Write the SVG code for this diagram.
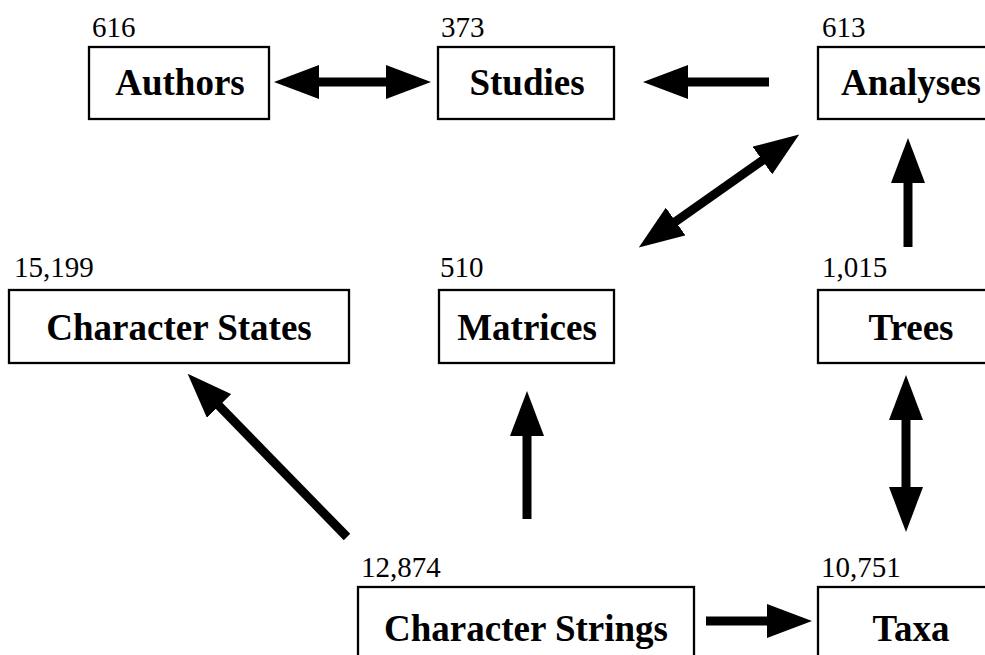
<svg xmlns="http://www.w3.org/2000/svg" width="985" height="655" viewBox="0 0 985 655">
<style>
  .box { fill: #fff; stroke: #000; stroke-width: 2.3; }
  .name { font-family: "Liberation Serif", "Times New Roman", serif; font-weight: bold; font-size: 37px; text-anchor: middle; fill: #000; }
  .count { font-family: "Liberation Serif", "Times New Roman", serif; font-size: 29px; fill: #000; }
  .conn { stroke: #000; stroke-width: 9; fill: none; }
</style>
<defs>
  <marker id="head" viewBox="0 0 45 34" markerWidth="45" markerHeight="34" refX="1" refY="17" orient="auto-start-reverse" markerUnits="userSpaceOnUse">
    <path d="M0,0 L45,17 L0,34 Z" fill="#000"/>
  </marker>
</defs>
<rect width="985" height="655" fill="#fff"/>
<g id="authors">
  <rect class="box" x="89" y="47" width="180" height="72"/>
  <text class="count" x="92" y="37">616</text>
  <text class="name" x="180" y="95">Authors</text>
</g>
<g id="studies">
  <rect class="box" x="438" y="47" width="176" height="72"/>
  <text class="count" x="441" y="37">373</text>
  <text class="name" x="527" y="95">Studies</text>
</g>
<g id="analyses">
  <rect class="box" x="818" y="47" width="186" height="72"/>
  <text class="count" x="822" y="37">613</text>
  <text class="name" x="911" y="95">Analyses</text>
</g>
<g id="character-states">
  <rect class="box" x="9" y="290" width="340" height="73"/>
  <text class="count" x="14" y="277">15,199</text>
  <text class="name" x="179" y="340">Character States</text>
</g>
<g id="matrices">
  <rect class="box" x="439" y="290" width="175" height="73"/>
  <text class="count" x="440" y="277">510</text>
  <text class="name" x="527" y="340">Matrices</text>
</g>
<g id="trees">
  <rect class="box" x="818" y="290" width="186" height="73"/>
  <text class="count" x="822" y="277">1,015</text>
  <text class="name" x="911" y="340">Trees</text>
</g>
<g id="character-strings">
  <rect class="box" x="358" y="587" width="336" height="80"/>
  <text class="count" x="361" y="577">12,874</text>
  <text class="name" x="526" y="641">Character Strings</text>
</g>
<g id="taxa">
  <rect class="box" x="818" y="587" width="186" height="80"/>
  <text class="count" x="821" y="577">10,751</text>
  <text class="name" x="911" y="641">Taxa</text>
</g>
<g id="connectors">
  <line class="conn" x1="318" y1="82" x2="387" y2="82" marker-start="url(#head)" marker-end="url(#head)"/>
  <line class="conn" x1="769" y1="82" x2="687" y2="82" marker-end="url(#head)"/>
  <line class="conn" x1="674.8" y1="222.1" x2="763.2" y2="159.9" marker-start="url(#head)" marker-end="url(#head)"/>
  <line class="conn" x1="908" y1="247" x2="908" y2="182" marker-end="url(#head)"/>
  <line class="conn" x1="906" y1="419" x2="906" y2="488" marker-start="url(#head)" marker-end="url(#head)"/>
  <line class="conn" x1="527" y1="519" x2="527" y2="435" marker-end="url(#head)"/>
  <line class="conn" x1="347" y1="537" x2="218.4" y2="405.2" marker-end="url(#head)"/>
  <line class="conn" x1="706" y1="621" x2="768" y2="621" marker-end="url(#head)"/>
</g>
</svg>
